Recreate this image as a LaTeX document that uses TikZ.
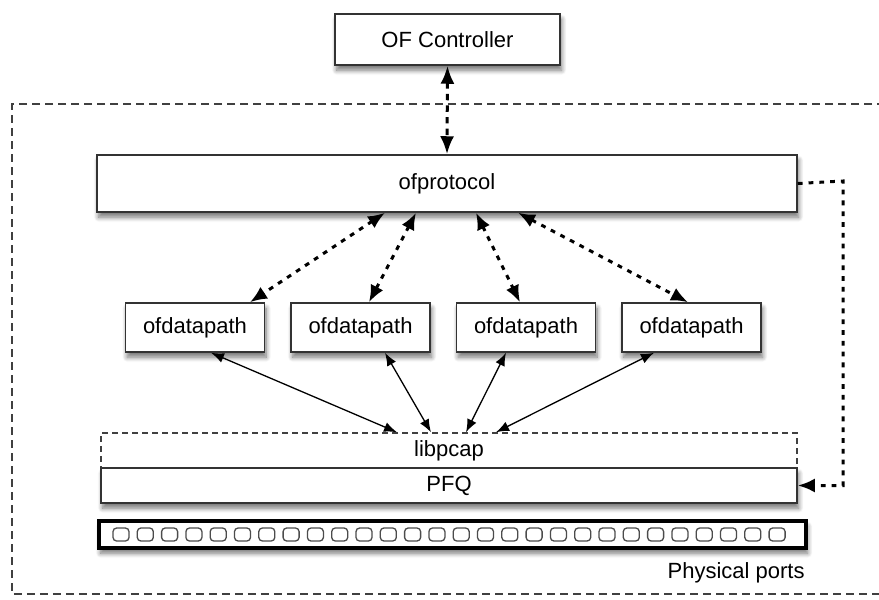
\documentclass[tikz,border=0pt]{standalone}
\usepackage{fontspec}
\setmainfont{Liberation Sans}
\usetikzlibrary{arrows.meta, shadows.blur}

\begin{document}
\begin{tikzpicture}[x=0.5pt, y=-0.5pt,
  font=\fontsize{11}{13}\selectfont,
  box/.style={draw=black!80, line width=0.75pt, fill=white, inner sep=0pt,
    blur shadow={shadow xshift=0.8pt, shadow yshift=-2.6pt, shadow blur steps=8,
      shadow blur radius=2.4pt, shadow opacity=55}},
  port/.style={draw=black!70, line width=0.65pt, fill=white, rounded corners=1.8pt,
    minimum width=8pt, minimum height=6.5pt, inner sep=0pt},
  ctlarrow/.style={line width=1.5pt, dash pattern=on 3.2pt off 2.6pt,
    {Latex[length=9pt,width=7pt]}-{Latex[length=9pt,width=7pt]}},
  dotline/.style={line width=1.5pt, dash pattern=on 2.4pt off 3pt},
  dotarrow/.style={dotline, {Latex[length=8.5pt,width=7pt]}-{Latex[length=8.5pt,width=7pt]}},
  solarrow/.style={line width=0.65pt, {Latex[length=6.5pt,width=5pt]}-{Latex[length=6.5pt,width=5pt]}}]
  \useasboundingbox (0,0) rectangle (879,600);

  % switch frame
  \draw[line width=0.7pt, black!75, dash pattern=on 4pt off 2.5pt]
    (885,104) -- (12,104) -- (12,594) -- (885,594);

  \node[box, minimum width=112.5pt, minimum height=25.5pt] (ctrl) at (447.5,39.5) {OF Controller};
  \node[box, minimum width=350pt, minimum height=28.5pt] (proto) at (447,183.5) {ofprotocol};

  \foreach \n/\cx in {1/195, 2/360.5, 3/526, 4/691.5}
    \node[box, minimum width=69.5pt, minimum height=24.5pt] (dp\n) at (\cx,327.5) {ofdatapath};

  \node[draw=black!75, line width=0.75pt, dash pattern=on 3pt off 2pt, fill=white,
    minimum width=348pt, minimum height=17.5pt, inner sep=0pt] (pcap) at (449,450.5) {libpcap};
  \node[box, minimum width=348pt, minimum height=17.5pt] (pfq) at (449,485.5) {PFQ};

  % physical ports
  \node[box, draw=black, line width=1.6pt, minimum width=353.5pt, minimum height=13.5pt] (ports) at (452.5,534.5) {};
  \foreach \i in {0,...,27}
    \node[port] (p\i) at (121+\i*24.3,534.5) {};
  \node[anchor=east, inner sep=0pt] (portlbl) at (805,573) {Physical ports};

  % control channel
  \draw[ctlarrow] (ctrl.south) -- (proto.north);

  \draw[dotarrow] ([xshift=-31pt]proto.south) -- ([xshift=27.5pt]dp1.north);
  \draw[dotarrow] ([xshift=-15.5pt]proto.south) -- ([xshift=4.25pt]dp2.north);
  \draw[dotarrow] ([xshift=14.5pt]proto.south) -- ([xshift=-3pt]dp3.north);
  \draw[dotarrow] ([xshift=35.5pt]proto.south) -- ([xshift=-1.75pt]dp4.north);

  \draw[solarrow] ([xshift=8pt]dp1.south) -- ([xshift=-26pt]pcap.north);
  \draw[solarrow] ([xshift=12.25pt]dp2.south) -- ([xshift=-9pt]pcap.north);
  \draw[solarrow] ([xshift=-10pt]dp3.south) -- ([xshift=8.5pt]pcap.north);
  \draw[solarrow] ([xshift=-18.75pt]dp4.south) -- ([xshift=23.5pt]pcap.north);

  \coordinate (turn) at (843,181);
  \draw[dotline, -{Latex[length=8.5pt,width=7pt]}] (proto.east) -- (turn) |- (pfq.east);
\end{tikzpicture}
\end{document}
